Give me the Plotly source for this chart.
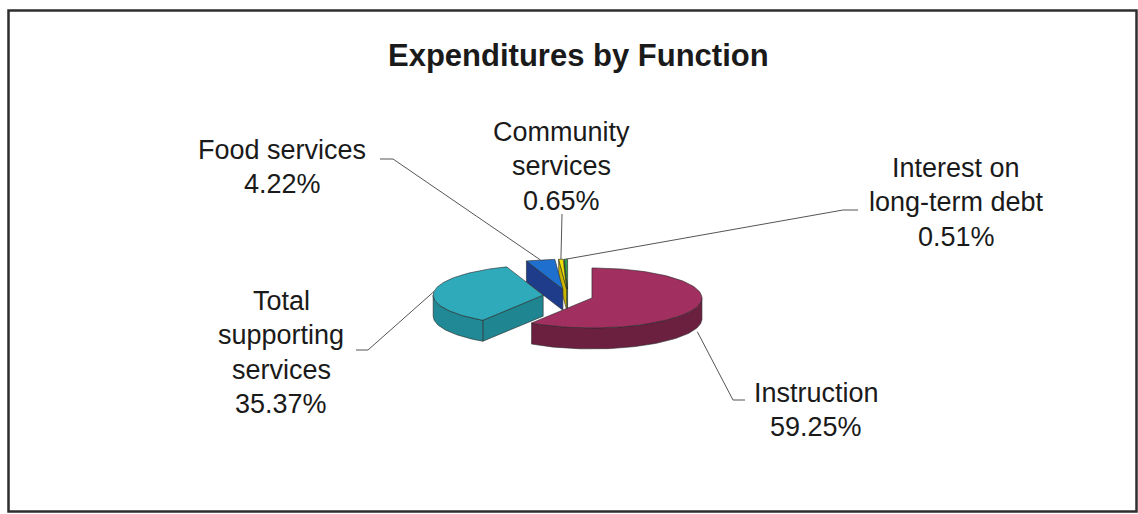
import numpy as np
import plotly.graph_objects as go

# ---------------- data ----------------
categories = ["Instruction", "Total supporting services", "Food services",
              "Community services", "Interest on long-term debt"]
shares = [59.25, 35.37, 4.22, 0.65, 0.51]
label_lines = [["Instruction"], ["Total", "supporting", "services"], ["Food services"],
               ["Community", "services"], ["Interest on", "long-term debt"]]
title_text = "Expenditures by Function"

# ---------------- style ----------------
top_colors = ["#a12f60", "#2eaabb", "#1f6fcf", "#f0e000", "#2f9c4c"]
side_colors = ["#6c2040", "#218895", "#203f8e", "#bfae00", "#1f6f35"]
cut_colors = ["#7a2548", "#1f8590", "#1e3c8a", "#c9b500", "#22763a"]
edge_col = "rgba(40,40,40,0.75)"

W, H = 1138, 514
CX, CY = 568, 296
RX, RY = 110, 30
DEPTH = 21
EXPLODE = 25
FONT = "Liberation Sans, Arial, sans-serif"
LAB_SIZE = 27
TITLE_SIZE = 31
LINE_GAP = 34.5

# label layout: (center x, baseline of first line), leader polyline near label
label_pos = [(816, 400), (281, 308), (282, 157), (561, 139), (956, 175)]
leader_start = [[(745, 400), (733, 400)], [(356, 350), (368, 350)], [(380, 159), (393, 159)],
                [(562, 214)], [(858, 210), (843, 210)]]


def arc(cx, cy, a0, a1, dz=0, n=None):
    if n is None:
        n = max(2, int(abs(a1 - a0) / 1.5) + 2)
    th = np.radians(np.linspace(a0, a1, n))
    return cx + RX * np.sin(th), cy - RY * np.cos(th) + dz


fig = go.Figure()


def poly(xs, ys, color):
    fig.add_trace(go.Scatter(x=list(xs) + [xs[0]], y=list(ys) + [ys[0]], mode="lines",
                             fill="toself", fillcolor=color,
                             line=dict(color=edge_col, width=0.8),
                             hoverinfo="skip", showlegend=False))


# slice geometry
bounds = []
acc = 0.0
for s in shares:
    a0 = acc * 3.6
    acc += s
    a1 = acc * 3.6
    mid = (a0 + a1) / 2
    m = np.radians(mid)
    cx = CX + EXPLODE * np.sin(m)
    cy = CY - EXPLODE * (RY / RX) * np.cos(m)
    bounds.append((a0, a1, mid, cx, cy))

order = [4, 3, 2, 1, 0]
for i in order:
    a0, a1, mid, cx, cy = bounds[i]
    # radial cut faces
    for ang, normal in ((a0, a0 - 90), (a1, a1 + 90)):
        if np.cos(np.radians(normal)) < -1e-6:
            px, py = arc(cx, cy, ang, ang, n=1)
            xs = [cx, px[0], px[0], cx]
            ys = [cy, py[0], py[0] + DEPTH, cy + DEPTH]
            poly(xs, ys, cut_colors[i])
    # outer wall (front half only)
    lo, hi = max(a0, 90), min(a1, 270)
    if hi > lo:
        tx, ty = arc(cx, cy, lo, hi)
        bx, by = arc(cx, cy, hi, lo, dz=DEPTH)
        poly(np.concatenate([tx, bx]), np.concatenate([ty, by]), side_colors[i])
    # top face
    tx, ty = arc(cx, cy, a0, a1)
    poly(np.concatenate([[cx], tx]), np.concatenate([[cy], ty]), top_colors[i])

# leader lines
for i in range(len(shares)):
    a0, a1, mid, cx, cy = bounds[i]
    px, py = arc(cx, cy, mid, mid, n=1)
    ax, ay = px[0], py[0]
    if 90 < mid < 270:
        ay += DEPTH * 1.2
    pts = leader_start[i] + [(ax, ay)]
    fig.add_trace(go.Scatter(x=[p[0] for p in pts], y=[p[1] for p in pts], mode="lines",
                             line=dict(color="#555555", width=1),
                             hoverinfo="skip", showlegend=False))

annotations = []
for i in range(len(shares)):
    lx, ly = label_pos[i]
    lines = label_lines[i] + [f"{shares[i]:.2f}%"]
    for k, t in enumerate(lines):
        annotations.append(dict(x=lx, y=ly + k * LINE_GAP - 0.26 * LAB_SIZE, xref="x", yref="y",
                                text=t, showarrow=False, xanchor="center", yanchor="middle",
                                font=dict(family=FONT, size=LAB_SIZE, color="#1a1a1a")))
annotations.append(dict(x=578, y=63 - 0.24 * TITLE_SIZE, xref="x", yref="y", text=f"<b>{title_text}</b>",
                        showarrow=False, xanchor="center", yanchor="middle",
                        font=dict(family=FONT, size=TITLE_SIZE, color="#1a1a1a")))

fig.update_layout(
    width=W, height=H, margin=dict(l=0, r=0, t=0, b=0),
    paper_bgcolor="white", plot_bgcolor="white",
    xaxis=dict(range=[0, W], visible=False, fixedrange=True),
    yaxis=dict(range=[H, 0], visible=False, fixedrange=True),
    annotations=annotations,
    shapes=[dict(type="rect", xref="x", yref="y", x0=8.5, y0=10.5, x1=1136.5, y1=511.5,
                 line=dict(color="#2e2e2e", width=2.5), fillcolor="rgba(0,0,0,0)")],
    showlegend=False,
)

fig.write_html("out.html")
